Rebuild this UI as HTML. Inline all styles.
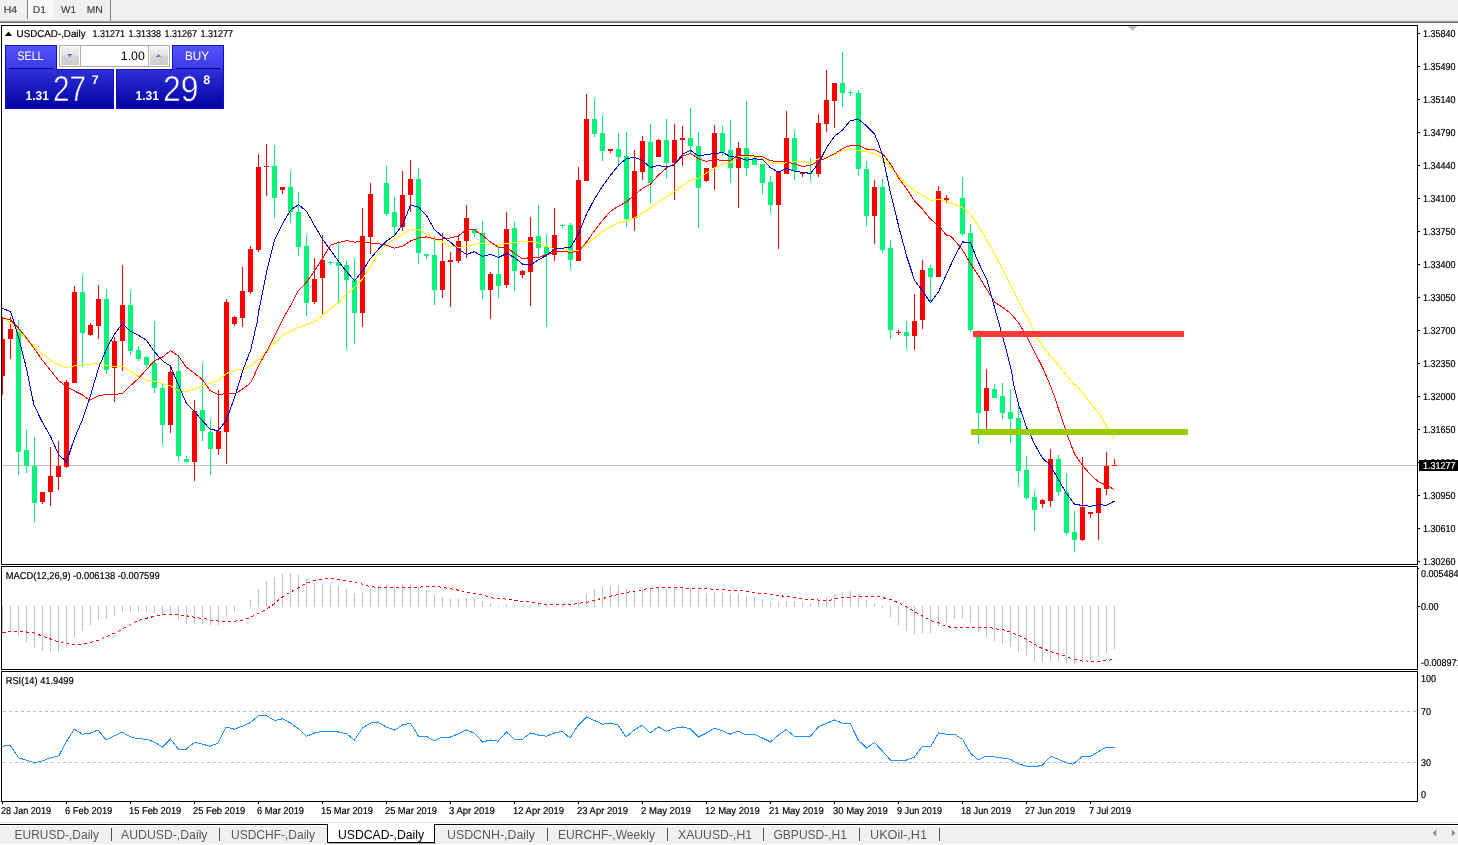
<!DOCTYPE html>
<html lang="en"><head><meta charset="utf-8"><title>USDCAD-,Daily</title>
<style>
html,body{margin:0;padding:0;background:#fff;}
body{width:1458px;height:845px;overflow:hidden;position:relative;font-family:"Liberation Sans",sans-serif;}
svg{position:absolute;left:0;top:0;display:block;}
text{font-family:"Liberation Sans",sans-serif;}
.ax{font-size:10px;fill:#000;stroke:#000;stroke-width:0.2px;text-rendering:geometricPrecision;}
.lbl{font-size:10px;fill:#000;stroke:#000;stroke-width:0.2px;text-rendering:geometricPrecision;}
.tab{font-size:12px;fill:#5a5a5a;}
.tf{font-size:10px;fill:#404040;stroke:#404040;stroke-width:0.15px;text-rendering:geometricPrecision;}
.crisp{shape-rendering:crispEdges;}
</style></head><body>
<svg width="1458" height="845" viewBox="0 0 1458 845">
<defs>
<linearGradient id="gTop" x1="0" y1="0" x2="0" y2="1"><stop offset="0" stop-color="#5454fa"/><stop offset="1" stop-color="#3a3ae6"/></linearGradient>
<linearGradient id="gBot" x1="0" y1="0" x2="0" y2="1"><stop offset="0" stop-color="#3030d8"/><stop offset="1" stop-color="#0000a4"/></linearGradient>
<linearGradient id="gBtn" x1="0" y1="0" x2="0" y2="1"><stop offset="0" stop-color="#f2f2f2"/><stop offset="0.45" stop-color="#e4e4e4"/><stop offset="0.5" stop-color="#d4d4d4"/><stop offset="1" stop-color="#cfcfcf"/></linearGradient>
<pattern id="chk" width="2" height="2" patternUnits="userSpaceOnUse"><rect width="2" height="2" fill="#f0f0f0"/><rect width="1" height="1" fill="#ffffff"/><rect x="1" y="1" width="1" height="1" fill="#ffffff"/></pattern>
<linearGradient id="gBotU" gradientUnits="userSpaceOnUse" x1="0" y1="69" x2="0" y2="109"><stop offset="0" stop-color="#3030d8"/><stop offset="1" stop-color="#0000a4"/></linearGradient>
</defs>
<rect width="1458" height="845" fill="#ffffff"/>
<g class="crisp">
<rect x="0" y="0" width="1458" height="20" fill="#f0f0f0"/>
<rect x="0" y="20" width="1458" height="1" fill="#e2e2e2"/>
<rect x="0" y="21" width="1458" height="1" fill="#a0a0a0"/>
<rect x="0" y="22" width="1458" height="1" fill="#696969"/>
<rect x="28" y="0" width="25" height="19" fill="url(#chk)"/>
<rect x="27" y="0" width="1" height="19" fill="#808080"/>
<rect x="110" y="0" width="1" height="21" fill="#808080"/>
</g>
<text class="tf" x="3.8" y="13" textLength="13.4" lengthAdjust="spacingAndGlyphs">H4</text>
<text class="tf" x="32.8" y="13" textLength="13.2" lengthAdjust="spacingAndGlyphs">D1</text>
<text class="tf" x="61" y="13" textLength="15" lengthAdjust="spacingAndGlyphs">W1</text>
<text class="tf" x="86.8" y="13" textLength="16" lengthAdjust="spacingAndGlyphs">MN</text>
<g class="crisp" fill="#000">
<rect x="1" y="25" width="1417" height="1"/>
<rect x="1" y="564" width="1417" height="1"/>
<rect x="1" y="25" width="1" height="540"/>
<rect x="1417" y="25" width="1" height="540"/>
<rect x="1" y="566" width="1417" height="1"/>
<rect x="1" y="669" width="1417" height="1"/>
<rect x="1" y="566" width="1" height="104"/>
<rect x="1417" y="566" width="1" height="104"/>
<rect x="1" y="671" width="1417" height="1"/>
<rect x="1" y="801" width="1417" height="1"/>
<rect x="1" y="671" width="1" height="131"/>
<rect x="1417" y="671" width="1" height="131"/>
</g>
<g class="crisp" fill="#000">
<rect x="1418" y="33" width="2" height="1"/>
<rect x="1418" y="66" width="2" height="1"/>
<rect x="1418" y="99" width="2" height="1"/>
<rect x="1418" y="132" width="2" height="1"/>
<rect x="1418" y="165" width="2" height="1"/>
<rect x="1418" y="198" width="2" height="1"/>
<rect x="1418" y="231" width="2" height="1"/>
<rect x="1418" y="264" width="2" height="1"/>
<rect x="1418" y="297" width="2" height="1"/>
<rect x="1418" y="330" width="2" height="1"/>
<rect x="1418" y="363" width="2" height="1"/>
<rect x="1418" y="396" width="2" height="1"/>
<rect x="1418" y="429" width="2" height="1"/>
<rect x="1418" y="462" width="2" height="1"/>
<rect x="1418" y="495" width="2" height="1"/>
<rect x="1418" y="528" width="2" height="1"/>
<rect x="1418" y="561" width="2" height="1"/>
<rect x="1418" y="606" width="2" height="1"/>
<rect x="1418" y="568" width="1" height="1"/>
</g>
<text class="ax" x="1423" y="37" textLength="32.5" lengthAdjust="spacingAndGlyphs">1.35840</text>
<text class="ax" x="1423" y="70" textLength="32.5" lengthAdjust="spacingAndGlyphs">1.35490</text>
<text class="ax" x="1423" y="103" textLength="32.5" lengthAdjust="spacingAndGlyphs">1.35140</text>
<text class="ax" x="1423" y="136" textLength="32.5" lengthAdjust="spacingAndGlyphs">1.34790</text>
<text class="ax" x="1423" y="169" textLength="32.5" lengthAdjust="spacingAndGlyphs">1.34440</text>
<text class="ax" x="1423" y="202" textLength="32.5" lengthAdjust="spacingAndGlyphs">1.34100</text>
<text class="ax" x="1423" y="235" textLength="32.5" lengthAdjust="spacingAndGlyphs">1.33750</text>
<text class="ax" x="1423" y="268" textLength="32.5" lengthAdjust="spacingAndGlyphs">1.33400</text>
<text class="ax" x="1423" y="301" textLength="32.5" lengthAdjust="spacingAndGlyphs">1.33050</text>
<text class="ax" x="1423" y="334" textLength="32.5" lengthAdjust="spacingAndGlyphs">1.32700</text>
<text class="ax" x="1423" y="367" textLength="32.5" lengthAdjust="spacingAndGlyphs">1.32350</text>
<text class="ax" x="1423" y="400" textLength="32.5" lengthAdjust="spacingAndGlyphs">1.32000</text>
<text class="ax" x="1423" y="433" textLength="32.5" lengthAdjust="spacingAndGlyphs">1.31650</text>
<text class="ax" x="1423" y="466" textLength="32.5" lengthAdjust="spacingAndGlyphs">1.31300</text>
<text class="ax" x="1423" y="499" textLength="32.5" lengthAdjust="spacingAndGlyphs">1.30950</text>
<text class="ax" x="1423" y="532" textLength="32.5" lengthAdjust="spacingAndGlyphs">1.30610</text>
<text class="ax" x="1423" y="565" textLength="32.5" lengthAdjust="spacingAndGlyphs">1.30260</text>
<text class="ax" x="1421" y="577" textLength="37.5" lengthAdjust="spacingAndGlyphs">0.005484</text>
<text class="ax" x="1421" y="610" textLength="17.5" lengthAdjust="spacingAndGlyphs">0.00</text>
<text class="ax" x="1421" y="666" textLength="40.5" lengthAdjust="spacingAndGlyphs">-0.008971</text>
<text class="ax" x="1421" y="682" textLength="15.0" lengthAdjust="spacingAndGlyphs">100</text>
<text class="ax" x="1421" y="715" textLength="10.0" lengthAdjust="spacingAndGlyphs">70</text>
<text class="ax" x="1421" y="766" textLength="10.0" lengthAdjust="spacingAndGlyphs">30</text>
<text class="ax" x="1421" y="798" textLength="5.0" lengthAdjust="spacingAndGlyphs">0</text>
<rect class="crisp" x="2" y="465" width="1415" height="1" fill="#c0c0c0"/>
<path class="crisp" d="M1127.5 26 L1137.5 26 L1132.5 31 Z" fill="#c0c0c0"/>
<g class="crisp">
<rect x="2" y="316" width="1" height="79" fill="#ff0000"/>
<rect x="2" y="339" width="3" height="37" fill="#ff0000"/>
<rect x="10" y="317" width="1" height="42" fill="#ff0000"/>
<rect x="8" y="329" width="5" height="10" fill="#ff0000"/>
<rect x="18" y="320" width="1" height="155" fill="#00f57a"/>
<rect x="16" y="329" width="5" height="123" fill="#00f57a"/>
<rect x="26" y="430" width="1" height="43" fill="#00f57a"/>
<rect x="24" y="450" width="5" height="16" fill="#00f57a"/>
<rect x="34" y="437" width="1" height="85" fill="#00f57a"/>
<rect x="32" y="466" width="5" height="37" fill="#00f57a"/>
<rect x="42" y="492" width="1" height="12" fill="#ff0000"/>
<rect x="40" y="492" width="5" height="10" fill="#ff0000"/>
<rect x="50" y="447" width="1" height="59" fill="#ff0000"/>
<rect x="48" y="476" width="5" height="16" fill="#ff0000"/>
<rect x="58" y="441" width="1" height="49" fill="#ff0000"/>
<rect x="56" y="466" width="5" height="11" fill="#ff0000"/>
<rect x="66" y="380" width="1" height="88" fill="#ff0000"/>
<rect x="64" y="382" width="5" height="85" fill="#ff0000"/>
<rect x="74" y="286" width="1" height="97" fill="#ff0000"/>
<rect x="72" y="292" width="5" height="91" fill="#ff0000"/>
<rect x="82" y="275" width="1" height="92" fill="#00f57a"/>
<rect x="80" y="292" width="5" height="41" fill="#00f57a"/>
<rect x="90" y="323" width="1" height="13" fill="#ff0000"/>
<rect x="88" y="325" width="5" height="10" fill="#ff0000"/>
<rect x="98" y="285" width="1" height="54" fill="#ff0000"/>
<rect x="96" y="299" width="5" height="27" fill="#ff0000"/>
<rect x="106" y="289" width="1" height="85" fill="#00f57a"/>
<rect x="104" y="299" width="5" height="71" fill="#00f57a"/>
<rect x="114" y="337" width="1" height="65" fill="#ff0000"/>
<rect x="112" y="341" width="5" height="27" fill="#ff0000"/>
<rect x="122" y="265" width="1" height="106" fill="#ff0000"/>
<rect x="120" y="305" width="5" height="36" fill="#ff0000"/>
<rect x="130" y="290" width="1" height="65" fill="#00f57a"/>
<rect x="128" y="305" width="5" height="46" fill="#00f57a"/>
<rect x="138" y="346" width="1" height="15" fill="#00f57a"/>
<rect x="136" y="350" width="5" height="9" fill="#00f57a"/>
<rect x="146" y="356" width="1" height="12" fill="#00f57a"/>
<rect x="144" y="357" width="5" height="8" fill="#00f57a"/>
<rect x="154" y="321" width="1" height="72" fill="#00f57a"/>
<rect x="152" y="363" width="5" height="25" fill="#00f57a"/>
<rect x="162" y="384" width="1" height="61" fill="#00f57a"/>
<rect x="160" y="388" width="5" height="37" fill="#00f57a"/>
<rect x="170" y="365" width="1" height="68" fill="#ff0000"/>
<rect x="168" y="372" width="5" height="53" fill="#ff0000"/>
<rect x="178" y="356" width="1" height="105" fill="#00f57a"/>
<rect x="176" y="371" width="5" height="85" fill="#00f57a"/>
<rect x="186" y="456" width="1" height="7" fill="#00f57a"/>
<rect x="184" y="459" width="5" height="3" fill="#00f57a"/>
<rect x="194" y="400" width="1" height="81" fill="#ff0000"/>
<rect x="192" y="411" width="5" height="51" fill="#ff0000"/>
<rect x="202" y="363" width="1" height="78" fill="#00f57a"/>
<rect x="200" y="410" width="5" height="21" fill="#00f57a"/>
<rect x="210" y="419" width="1" height="56" fill="#00f57a"/>
<rect x="208" y="432" width="5" height="17" fill="#00f57a"/>
<rect x="218" y="390" width="1" height="65" fill="#ff0000"/>
<rect x="216" y="431" width="5" height="18" fill="#ff0000"/>
<rect x="226" y="299" width="1" height="165" fill="#ff0000"/>
<rect x="224" y="302" width="5" height="130" fill="#ff0000"/>
<rect x="234" y="316" width="1" height="10" fill="#ff0000"/>
<rect x="232" y="317" width="5" height="7" fill="#ff0000"/>
<rect x="242" y="267" width="1" height="60" fill="#ff0000"/>
<rect x="240" y="291" width="5" height="27" fill="#ff0000"/>
<rect x="250" y="246" width="1" height="48" fill="#ff0000"/>
<rect x="248" y="249" width="5" height="43" fill="#ff0000"/>
<rect x="258" y="154" width="1" height="98" fill="#ff0000"/>
<rect x="256" y="167" width="5" height="83" fill="#ff0000"/>
<rect x="266" y="144" width="1" height="52" fill="#ff0000"/>
<rect x="264" y="166" width="5" height="1" fill="#ff0000"/>
<rect x="274" y="145" width="1" height="73" fill="#00f57a"/>
<rect x="272" y="166" width="5" height="32" fill="#00f57a"/>
<rect x="282" y="187" width="1" height="7" fill="#ff0000"/>
<rect x="280" y="187" width="5" height="3" fill="#ff0000"/>
<rect x="290" y="171" width="1" height="52" fill="#00f57a"/>
<rect x="288" y="187" width="5" height="25" fill="#00f57a"/>
<rect x="298" y="192" width="1" height="64" fill="#00f57a"/>
<rect x="296" y="212" width="5" height="35" fill="#00f57a"/>
<rect x="306" y="235" width="1" height="81" fill="#00f57a"/>
<rect x="304" y="246" width="5" height="57" fill="#00f57a"/>
<rect x="314" y="258" width="1" height="46" fill="#ff0000"/>
<rect x="312" y="279" width="5" height="23" fill="#ff0000"/>
<rect x="322" y="235" width="1" height="79" fill="#ff0000"/>
<rect x="320" y="260" width="5" height="18" fill="#ff0000"/>
<rect x="330" y="261" width="1" height="4" fill="#00f57a"/>
<rect x="328" y="262" width="5" height="1" fill="#00f57a"/>
<rect x="338" y="241" width="1" height="61" fill="#00f57a"/>
<rect x="336" y="262" width="5" height="4" fill="#00f57a"/>
<rect x="346" y="261" width="1" height="89" fill="#00f57a"/>
<rect x="344" y="265" width="5" height="15" fill="#00f57a"/>
<rect x="354" y="258" width="1" height="86" fill="#00f57a"/>
<rect x="352" y="280" width="5" height="33" fill="#00f57a"/>
<rect x="362" y="208" width="1" height="119" fill="#ff0000"/>
<rect x="360" y="236" width="5" height="77" fill="#ff0000"/>
<rect x="370" y="183" width="1" height="71" fill="#ff0000"/>
<rect x="368" y="194" width="5" height="43" fill="#ff0000"/>
<rect x="386" y="166" width="1" height="50" fill="#00f57a"/>
<rect x="384" y="183" width="5" height="31" fill="#00f57a"/>
<rect x="394" y="197" width="1" height="39" fill="#00f57a"/>
<rect x="392" y="212" width="5" height="15" fill="#00f57a"/>
<rect x="402" y="171" width="1" height="60" fill="#ff0000"/>
<rect x="400" y="195" width="5" height="32" fill="#ff0000"/>
<rect x="410" y="160" width="1" height="52" fill="#ff0000"/>
<rect x="408" y="179" width="5" height="16" fill="#ff0000"/>
<rect x="418" y="168" width="1" height="96" fill="#00f57a"/>
<rect x="416" y="179" width="5" height="74" fill="#00f57a"/>
<rect x="426" y="254" width="1" height="5" fill="#00f57a"/>
<rect x="424" y="254" width="5" height="2" fill="#00f57a"/>
<rect x="434" y="236" width="1" height="69" fill="#00f57a"/>
<rect x="432" y="255" width="5" height="35" fill="#00f57a"/>
<rect x="442" y="233" width="1" height="65" fill="#ff0000"/>
<rect x="440" y="261" width="5" height="29" fill="#ff0000"/>
<rect x="450" y="252" width="1" height="55" fill="#ff0000"/>
<rect x="448" y="260" width="5" height="2" fill="#ff0000"/>
<rect x="458" y="236" width="1" height="27" fill="#ff0000"/>
<rect x="456" y="241" width="5" height="20" fill="#ff0000"/>
<rect x="466" y="205" width="1" height="53" fill="#ff0000"/>
<rect x="464" y="218" width="5" height="23" fill="#ff0000"/>
<rect x="474" y="229" width="1" height="8" fill="#00f57a"/>
<rect x="472" y="229" width="5" height="4" fill="#00f57a"/>
<rect x="482" y="221" width="1" height="78" fill="#00f57a"/>
<rect x="480" y="233" width="5" height="57" fill="#00f57a"/>
<rect x="490" y="272" width="1" height="47" fill="#ff0000"/>
<rect x="488" y="274" width="5" height="16" fill="#ff0000"/>
<rect x="498" y="246" width="1" height="52" fill="#00f57a"/>
<rect x="496" y="274" width="5" height="12" fill="#00f57a"/>
<rect x="506" y="212" width="1" height="76" fill="#ff0000"/>
<rect x="504" y="229" width="5" height="56" fill="#ff0000"/>
<rect x="514" y="222" width="1" height="69" fill="#00f57a"/>
<rect x="512" y="228" width="5" height="43" fill="#00f57a"/>
<rect x="522" y="270" width="1" height="8" fill="#ff0000"/>
<rect x="520" y="271" width="5" height="4" fill="#ff0000"/>
<rect x="530" y="217" width="1" height="89" fill="#ff0000"/>
<rect x="528" y="237" width="5" height="35" fill="#ff0000"/>
<rect x="538" y="205" width="1" height="53" fill="#00f57a"/>
<rect x="536" y="236" width="5" height="12" fill="#00f57a"/>
<rect x="546" y="234" width="1" height="93" fill="#00f57a"/>
<rect x="544" y="247" width="5" height="8" fill="#00f57a"/>
<rect x="554" y="208" width="1" height="53" fill="#ff0000"/>
<rect x="552" y="235" width="5" height="20" fill="#ff0000"/>
<rect x="562" y="224" width="1" height="4" fill="#00f57a"/>
<rect x="560" y="225" width="5" height="1" fill="#00f57a"/>
<rect x="570" y="223" width="1" height="47" fill="#00f57a"/>
<rect x="568" y="225" width="5" height="35" fill="#00f57a"/>
<rect x="578" y="167" width="1" height="94" fill="#ff0000"/>
<rect x="576" y="180" width="5" height="81" fill="#ff0000"/>
<rect x="586" y="94" width="1" height="87" fill="#ff0000"/>
<rect x="584" y="119" width="5" height="62" fill="#ff0000"/>
<rect x="594" y="98" width="1" height="39" fill="#00f57a"/>
<rect x="592" y="119" width="5" height="15" fill="#00f57a"/>
<rect x="602" y="115" width="1" height="46" fill="#00f57a"/>
<rect x="600" y="133" width="5" height="18" fill="#00f57a"/>
<rect x="610" y="149" width="1" height="4" fill="#ff0000"/>
<rect x="608" y="149" width="5" height="2" fill="#ff0000"/>
<rect x="618" y="133" width="1" height="31" fill="#00f57a"/>
<rect x="616" y="149" width="5" height="8" fill="#00f57a"/>
<rect x="626" y="132" width="1" height="95" fill="#00f57a"/>
<rect x="624" y="156" width="5" height="63" fill="#00f57a"/>
<rect x="634" y="150" width="1" height="81" fill="#ff0000"/>
<rect x="632" y="171" width="5" height="47" fill="#ff0000"/>
<rect x="642" y="136" width="1" height="44" fill="#ff0000"/>
<rect x="640" y="141" width="5" height="31" fill="#ff0000"/>
<rect x="650" y="124" width="1" height="79" fill="#00f57a"/>
<rect x="648" y="142" width="5" height="41" fill="#00f57a"/>
<rect x="658" y="139" width="1" height="18" fill="#ff0000"/>
<rect x="656" y="140" width="5" height="17" fill="#ff0000"/>
<rect x="666" y="119" width="1" height="59" fill="#00f57a"/>
<rect x="664" y="140" width="5" height="23" fill="#00f57a"/>
<rect x="674" y="124" width="1" height="76" fill="#ff0000"/>
<rect x="672" y="140" width="5" height="23" fill="#ff0000"/>
<rect x="682" y="126" width="1" height="40" fill="#ff0000"/>
<rect x="680" y="138" width="5" height="2" fill="#ff0000"/>
<rect x="690" y="108" width="1" height="45" fill="#00f57a"/>
<rect x="688" y="138" width="5" height="8" fill="#00f57a"/>
<rect x="698" y="132" width="1" height="96" fill="#00f57a"/>
<rect x="696" y="146" width="5" height="42" fill="#00f57a"/>
<rect x="706" y="168" width="1" height="14" fill="#ff0000"/>
<rect x="704" y="168" width="5" height="13" fill="#ff0000"/>
<rect x="714" y="125" width="1" height="65" fill="#ff0000"/>
<rect x="712" y="133" width="5" height="35" fill="#ff0000"/>
<rect x="722" y="126" width="1" height="30" fill="#00f57a"/>
<rect x="720" y="133" width="5" height="19" fill="#00f57a"/>
<rect x="730" y="120" width="1" height="63" fill="#00f57a"/>
<rect x="728" y="150" width="5" height="18" fill="#00f57a"/>
<rect x="738" y="142" width="1" height="66" fill="#ff0000"/>
<rect x="736" y="148" width="5" height="20" fill="#ff0000"/>
<rect x="746" y="101" width="1" height="75" fill="#00f57a"/>
<rect x="744" y="148" width="5" height="20" fill="#00f57a"/>
<rect x="754" y="155" width="1" height="10" fill="#00f57a"/>
<rect x="752" y="158" width="5" height="7" fill="#00f57a"/>
<rect x="762" y="164" width="1" height="30" fill="#00f57a"/>
<rect x="760" y="164" width="5" height="19" fill="#00f57a"/>
<rect x="770" y="176" width="1" height="37" fill="#00f57a"/>
<rect x="768" y="182" width="5" height="23" fill="#00f57a"/>
<rect x="778" y="171" width="1" height="78" fill="#ff0000"/>
<rect x="776" y="172" width="5" height="33" fill="#ff0000"/>
<rect x="786" y="111" width="1" height="63" fill="#ff0000"/>
<rect x="784" y="138" width="5" height="36" fill="#ff0000"/>
<rect x="794" y="130" width="1" height="50" fill="#00f57a"/>
<rect x="792" y="138" width="5" height="33" fill="#00f57a"/>
<rect x="802" y="172" width="1" height="5" fill="#ff0000"/>
<rect x="800" y="173" width="5" height="1" fill="#ff0000"/>
<rect x="810" y="158" width="1" height="23" fill="#00f57a"/>
<rect x="808" y="173" width="5" height="1" fill="#00f57a"/>
<rect x="818" y="114" width="1" height="63" fill="#ff0000"/>
<rect x="816" y="123" width="5" height="51" fill="#ff0000"/>
<rect x="826" y="70" width="1" height="62" fill="#ff0000"/>
<rect x="824" y="100" width="5" height="24" fill="#ff0000"/>
<rect x="834" y="83" width="1" height="45" fill="#ff0000"/>
<rect x="832" y="83" width="5" height="18" fill="#ff0000"/>
<rect x="842" y="52" width="1" height="55" fill="#00f57a"/>
<rect x="840" y="83" width="5" height="10" fill="#00f57a"/>
<rect x="850" y="90" width="1" height="6" fill="#00f57a"/>
<rect x="848" y="92" width="5" height="1" fill="#00f57a"/>
<rect x="858" y="90" width="1" height="86" fill="#00f57a"/>
<rect x="856" y="93" width="5" height="76" fill="#00f57a"/>
<rect x="866" y="161" width="1" height="65" fill="#00f57a"/>
<rect x="864" y="169" width="5" height="47" fill="#00f57a"/>
<rect x="874" y="180" width="1" height="64" fill="#ff0000"/>
<rect x="872" y="187" width="5" height="29" fill="#ff0000"/>
<rect x="882" y="179" width="1" height="74" fill="#00f57a"/>
<rect x="880" y="187" width="5" height="63" fill="#00f57a"/>
<rect x="890" y="240" width="1" height="99" fill="#00f57a"/>
<rect x="888" y="248" width="5" height="82" fill="#00f57a"/>
<rect x="898" y="330" width="1" height="5" fill="#ff0000"/>
<rect x="896" y="332" width="5" height="1" fill="#ff0000"/>
<rect x="906" y="321" width="1" height="28" fill="#00f57a"/>
<rect x="904" y="332" width="5" height="4" fill="#00f57a"/>
<rect x="914" y="294" width="1" height="56" fill="#ff0000"/>
<rect x="912" y="321" width="5" height="15" fill="#ff0000"/>
<rect x="922" y="260" width="1" height="69" fill="#ff0000"/>
<rect x="920" y="270" width="5" height="50" fill="#ff0000"/>
<rect x="930" y="265" width="1" height="37" fill="#00f57a"/>
<rect x="928" y="268" width="5" height="9" fill="#00f57a"/>
<rect x="938" y="186" width="1" height="91" fill="#ff0000"/>
<rect x="936" y="191" width="5" height="86" fill="#ff0000"/>
<rect x="946" y="195" width="1" height="8" fill="#ff0000"/>
<rect x="944" y="198" width="5" height="2" fill="#ff0000"/>
<rect x="962" y="177" width="1" height="59" fill="#00f57a"/>
<rect x="960" y="198" width="5" height="36" fill="#00f57a"/>
<rect x="970" y="224" width="1" height="108" fill="#00f57a"/>
<rect x="968" y="233" width="5" height="97" fill="#00f57a"/>
<rect x="978" y="330" width="1" height="114" fill="#00f57a"/>
<rect x="976" y="331" width="5" height="82" fill="#00f57a"/>
<rect x="986" y="369" width="1" height="61" fill="#ff0000"/>
<rect x="984" y="388" width="5" height="23" fill="#ff0000"/>
<rect x="994" y="384" width="1" height="14" fill="#00f57a"/>
<rect x="992" y="389" width="5" height="9" fill="#00f57a"/>
<rect x="1002" y="383" width="1" height="36" fill="#00f57a"/>
<rect x="1000" y="396" width="5" height="17" fill="#00f57a"/>
<rect x="1010" y="389" width="1" height="54" fill="#00f57a"/>
<rect x="1008" y="412" width="5" height="7" fill="#00f57a"/>
<rect x="1018" y="405" width="1" height="81" fill="#00f57a"/>
<rect x="1016" y="418" width="5" height="53" fill="#00f57a"/>
<rect x="1026" y="456" width="1" height="44" fill="#00f57a"/>
<rect x="1024" y="470" width="5" height="28" fill="#00f57a"/>
<rect x="1034" y="491" width="1" height="40" fill="#00f57a"/>
<rect x="1032" y="497" width="5" height="13" fill="#00f57a"/>
<rect x="1042" y="499" width="1" height="9" fill="#ff0000"/>
<rect x="1040" y="500" width="5" height="4" fill="#ff0000"/>
<rect x="1050" y="449" width="1" height="58" fill="#ff0000"/>
<rect x="1048" y="459" width="5" height="42" fill="#ff0000"/>
<rect x="1058" y="455" width="1" height="41" fill="#00f57a"/>
<rect x="1056" y="459" width="5" height="33" fill="#00f57a"/>
<rect x="1066" y="473" width="1" height="62" fill="#00f57a"/>
<rect x="1064" y="492" width="5" height="41" fill="#00f57a"/>
<rect x="1074" y="511" width="1" height="41" fill="#00f57a"/>
<rect x="1072" y="532" width="5" height="8" fill="#00f57a"/>
<rect x="1082" y="457" width="1" height="84" fill="#ff0000"/>
<rect x="1080" y="507" width="5" height="33" fill="#ff0000"/>
<rect x="1090" y="512" width="1" height="6" fill="#ff0000"/>
<rect x="1088" y="512" width="5" height="2" fill="#ff0000"/>
<rect x="1098" y="488" width="1" height="52" fill="#ff0000"/>
<rect x="1096" y="488" width="5" height="25" fill="#ff0000"/>
<rect x="1106" y="452" width="1" height="43" fill="#ff0000"/>
<rect x="1104" y="466" width="5" height="23" fill="#ff0000"/>
<rect x="1114" y="459" width="1" height="7" fill="#ff0000"/>
<rect x="1112" y="465" width="5" height="1" fill="#ff0000"/>
</g>
<polyline points="2.1,316.8 10.3,322.9 18.5,331.2 26.8,339.4 35.0,347.6 42.2,353.8 50.4,360.0 58.7,365.1 66.5,367.8 74.5,365.8 82.4,365.1 90.6,364.1 98.8,363.1 107.1,365.8 114.5,366.6 122.5,366.6 130.5,371.3 138.4,376.5 146.6,380.2 154.4,381.2 162.7,383.7 170.5,385.7 178.3,390.9 186.3,391.3 194.6,389.2 202.4,385.7 210.4,383.3 218.4,380.6 226.5,373.4 234.7,370.3 242.9,369.3 250.8,365.8 259.4,359.0 267.7,350.7 275.9,341.5 284.1,334.3 292.4,330.1 299.6,327.1 306.5,324.8 314.5,321.3 322.4,315.8 330.6,308.4 338.8,302.8 346.7,293.5 354.5,287.4 362.5,279.1 370.5,266.8 378.4,252.4 386.6,244.1 394.4,239.0 402.7,234.2 410.5,229.7 418.5,229.7 426.3,234.2 434.6,239.0 442.8,242.1 450.4,246.2 458.4,247.2 466.5,246.6 474.3,244.1 482.5,243.7 490.6,244.5 498.4,244.5 506.6,243.7 514.4,242.5 522.5,241.6 530.3,241.6 538.5,243.1 546.8,246.6 554.6,248.7 562.6,248.7 570.6,251.3 578.5,250.9 586.5,244.1 594.5,237.9 602.4,231.8 610.6,226.6 618.8,222.5 626.4,221.1 634.5,217.8 642.5,213.2 650.5,208.1 658.4,201.9 666.6,196.4 674.4,191.6 682.7,185.4 690.5,180.3 698.5,178.2 706.3,173.1 714.6,167.9 722.8,164.2 730.4,162.8 738.4,156.6 746.5,156.6 754.3,156.6 762.5,158.7 770.6,162.8 778.4,163.8 786.6,162.8 794.4,161.8 802.6,161.6 810.6,162.5 818.6,159.0 826.6,156.9 834.5,154.9 842.5,150.7 850.5,149.3 858.6,150.3 866.6,151.8 874.6,153.2 882.6,159.0 890.5,167.2 899.1,176.5 907.4,184.7 914.6,190.9 921.8,195.0 931.0,200.6 938.7,199.1 946.5,201.2 954.7,204.3 962.5,207.4 970.6,214.6 978.4,225.9 985.6,238.2 986.4,239.3 994.5,253.7 1002.5,269.1 1010.5,284.6 1018.4,301.0 1027.2,317.5 1034.4,331.9 1041.6,345.3 1049.9,355.6 1058.1,364.9 1066.3,375.2 1074.6,385.4 1075.2,384.0 1083.5,393.9 1091.7,404.6 1099.1,413.6 1107.3,427.6 1112.3,435.0 1113.9,438.7" fill="none" stroke="#ffff00" stroke-width="1" shape-rendering="crispEdges" />
<polyline points="2.1,317.8 10.3,319.9 18.5,328.1 26.8,338.4 35.0,349.7 42.2,360.0 50.4,370.3 58.7,380.6 66.5,386.8 74.5,390.9 82.4,395.0 89.6,400.2 98.8,395.6 107.1,394.4 114.5,394.4 122.5,393.6 130.5,385.7 138.4,378.5 146.6,369.3 154.4,361.0 162.7,356.9 170.5,350.7 178.3,355.9 186.3,367.2 194.6,373.4 202.4,379.6 210.4,390.9 218.4,394.6 226.5,393.6 234.7,394.0 242.9,388.8 250.8,382.6 259.4,364.1 267.7,349.7 275.9,333.2 284.1,316.8 292.4,302.4 298.5,290.4 306.5,282.2 314.5,270.9 322.4,258.5 330.6,245.1 338.8,242.5 346.7,240.6 354.5,242.1 362.5,241.6 370.5,243.1 378.4,243.7 386.6,245.1 394.4,248.2 402.7,246.2 410.5,241.0 418.5,237.9 426.3,236.9 434.6,239.0 442.8,239.0 450.4,237.9 458.4,235.9 466.5,229.7 474.3,229.7 482.5,235.5 490.6,242.1 498.4,247.2 506.6,247.2 514.4,253.4 522.5,258.9 530.3,257.5 538.5,257.5 546.8,254.4 554.6,252.4 562.6,251.3 570.6,252.4 578.5,251.3 586.5,242.1 594.5,230.7 602.4,220.4 610.6,211.2 618.8,206.0 626.4,201.9 634.5,194.7 642.5,188.5 650.5,184.0 658.4,175.1 666.6,167.9 674.4,163.8 682.7,156.0 690.5,153.5 698.5,158.7 706.3,161.4 714.6,159.7 722.8,160.3 730.4,160.3 738.4,155.2 746.5,155.2 754.3,156.0 762.5,156.6 770.6,160.7 778.4,161.8 786.6,161.8 794.4,163.8 802.6,166.6 810.6,165.1 818.6,161.0 826.6,157.9 834.5,153.8 842.5,148.7 850.5,145.2 858.6,145.2 866.6,149.1 874.6,149.7 882.6,153.8 890.5,164.1 899.1,178.5 907.4,189.9 914.6,201.2 921.8,208.4 930.0,218.7 938.7,225.9 946.5,235.2 951.0,236.2 962.4,249.6 970.6,264.0 978.8,276.3 986.4,288.7 994.5,302.1 1002.5,307.2 1010.5,313.4 1018.4,322.6 1027.2,337.1 1034.4,351.5 1042.7,367.9 1049.9,384.4 1054.7,397.2 1058.4,408.7 1062.9,421.9 1065.3,428.4 1067.8,436.7 1074.6,454.0 1082.5,465.5 1090.5,474.5 1098.4,481.9 1106.5,485.2 1113.9,489.3" fill="none" stroke="#ff0000" stroke-width="1" shape-rendering="crispEdges" />
<polyline points="2.1,308.1 10.3,311.6 12.4,316.8 18.5,337.4 25.7,365.1 34.0,405.3 42.2,421.8 50.4,436.2 58.7,454.7 66.5,461.9 74.5,438.2 82.4,419.7 90.6,395.0 98.8,367.2 107.1,347.6 114.5,334.3 122.5,323.4 130.5,331.2 138.4,335.3 146.6,340.4 154.4,351.8 162.7,361.0 170.5,366.2 178.3,384.7 186.3,403.2 194.6,411.5 202.4,420.7 210.4,429.4 218.4,430.6 226.5,419.7 234.7,397.1 242.9,370.3 250.8,349.7 257.4,320.9 258.5,312.1 266.8,270.9 274.6,240.0 282.6,223.5 290.6,210.1 298.5,204.6 306.5,211.2 314.5,225.6 322.4,239.0 330.6,250.3 338.8,261.6 346.7,271.9 354.5,280.8 362.5,270.9 370.5,258.5 378.4,249.3 386.6,241.0 394.4,235.5 402.7,224.6 410.5,205.0 418.5,207.1 426.3,215.3 434.6,229.7 442.8,236.9 450.4,242.1 458.4,249.3 466.5,254.4 474.3,251.7 482.5,256.5 490.6,254.4 498.4,257.5 506.6,253.4 514.4,257.5 522.5,264.1 530.3,265.1 538.5,259.6 546.8,255.4 554.6,248.7 562.6,248.2 570.6,247.2 578.5,233.8 586.5,214.3 594.5,198.8 602.4,186.5 610.6,175.1 618.8,164.9 626.4,158.7 634.5,157.2 642.5,160.7 650.5,167.5 658.4,165.5 666.6,166.9 674.4,164.9 682.7,153.9 690.5,150.4 698.5,156.0 706.3,154.6 714.6,153.5 722.8,152.5 730.4,156.6 738.4,157.6 746.5,160.3 754.3,158.7 762.5,159.7 770.6,167.9 778.4,172.1 786.6,168.4 794.4,171.0 802.6,172.4 810.6,173.4 818.6,163.1 826.6,147.6 834.5,136.3 842.5,130.1 850.5,120.5 858.6,119.4 866.6,126.0 874.6,134.3 878.5,143.5 882.6,155.9 890.5,192.9 899.6,230.0 906.8,256.8 914.6,280.4 922.6,290.7 930.4,302.5 938.5,291.8 946.5,274.3 954.5,256.8 962.6,241.9 970.6,242.8 976.8,258.8 987.1,280.4 992.2,299.0 999.4,324.7 1005.6,347.4 1011.8,372.1 1013.5,384.0 1018.4,403.8 1026.5,427.6 1030.8,435.9 1034.6,444.1 1042.5,458.1 1050.5,465.5 1058.4,479.5 1066.5,493.5 1074.6,504.2 1082.5,505.5 1090.5,506.3 1098.4,504.7 1106.5,505.3 1114.6,500.9" fill="none" stroke="#0000cd" stroke-width="1" shape-rendering="crispEdges" />
<rect class="crisp" x="973" y="331" width="211" height="6" fill="#f93a3a"/>
<rect class="crisp" x="971" y="429" width="217" height="6" fill="#99cc00"/>
<rect class="crisp" x="1419" y="460" width="39" height="11" fill="#000"/>
<text class="ax" x="1423" y="469" textLength="32.5" lengthAdjust="spacingAndGlyphs" style="fill:#fff;stroke:#fff">1.31277</text>
<g class="crisp" fill="#c0c0c0">
<rect x="2" y="606" width="1" height="25"/>
<rect x="10" y="606" width="1" height="24"/>
<rect x="18" y="606" width="1" height="30"/>
<rect x="26" y="606" width="1" height="36"/>
<rect x="34" y="606" width="1" height="42"/>
<rect x="42" y="606" width="1" height="45"/>
<rect x="50" y="606" width="1" height="46"/>
<rect x="58" y="606" width="1" height="46"/>
<rect x="66" y="606" width="1" height="41"/>
<rect x="74" y="606" width="1" height="31"/>
<rect x="82" y="606" width="1" height="25"/>
<rect x="90" y="606" width="1" height="19"/>
<rect x="98" y="606" width="1" height="14"/>
<rect x="106" y="606" width="1" height="13"/>
<rect x="114" y="606" width="1" height="10"/>
<rect x="122" y="606" width="1" height="6"/>
<rect x="130" y="606" width="1" height="6"/>
<rect x="138" y="606" width="1" height="6"/>
<rect x="146" y="606" width="1" height="6"/>
<rect x="154" y="606" width="1" height="7"/>
<rect x="162" y="606" width="1" height="10"/>
<rect x="170" y="606" width="1" height="10"/>
<rect x="178" y="606" width="1" height="14"/>
<rect x="186" y="606" width="1" height="18"/>
<rect x="194" y="606" width="1" height="18"/>
<rect x="202" y="606" width="1" height="18"/>
<rect x="210" y="606" width="1" height="19"/>
<rect x="218" y="606" width="1" height="19"/>
<rect x="226" y="606" width="1" height="11"/>
<rect x="234" y="606" width="1" height="6"/>
<rect x="250" y="600" width="1" height="7"/>
<rect x="258" y="589" width="1" height="18"/>
<rect x="266" y="581" width="1" height="26"/>
<rect x="274" y="577" width="1" height="30"/>
<rect x="282" y="574" width="1" height="33"/>
<rect x="290" y="573" width="1" height="34"/>
<rect x="298" y="575" width="1" height="32"/>
<rect x="306" y="579" width="1" height="28"/>
<rect x="314" y="583" width="1" height="24"/>
<rect x="322" y="584" width="1" height="23"/>
<rect x="330" y="585" width="1" height="22"/>
<rect x="338" y="586" width="1" height="21"/>
<rect x="346" y="589" width="1" height="18"/>
<rect x="354" y="593" width="1" height="14"/>
<rect x="362" y="592" width="1" height="15"/>
<rect x="370" y="589" width="1" height="18"/>
<rect x="378" y="586" width="1" height="21"/>
<rect x="386" y="585" width="1" height="22"/>
<rect x="394" y="586" width="1" height="21"/>
<rect x="402" y="585" width="1" height="22"/>
<rect x="410" y="584" width="1" height="23"/>
<rect x="418" y="587" width="1" height="20"/>
<rect x="426" y="590" width="1" height="17"/>
<rect x="434" y="595" width="1" height="12"/>
<rect x="442" y="597" width="1" height="10"/>
<rect x="450" y="599" width="1" height="8"/>
<rect x="458" y="599" width="1" height="8"/>
<rect x="466" y="598" width="1" height="9"/>
<rect x="474" y="598" width="1" height="9"/>
<rect x="482" y="601" width="1" height="6"/>
<rect x="490" y="603" width="1" height="4"/>
<rect x="498" y="606" width="1" height="1"/>
<rect x="506" y="604" width="1" height="3"/>
<rect x="514" y="605" width="1" height="2"/>
<rect x="522" y="606" width="1" height="1"/>
<rect x="530" y="605" width="1" height="2"/>
<rect x="538" y="604" width="1" height="3"/>
<rect x="546" y="605" width="1" height="2"/>
<rect x="554" y="605" width="1" height="2"/>
<rect x="562" y="604" width="1" height="3"/>
<rect x="570" y="604" width="1" height="3"/>
<rect x="578" y="600" width="1" height="7"/>
<rect x="586" y="594" width="1" height="13"/>
<rect x="594" y="589" width="1" height="18"/>
<rect x="602" y="587" width="1" height="20"/>
<rect x="610" y="586" width="1" height="21"/>
<rect x="618" y="585" width="1" height="22"/>
<rect x="626" y="589" width="1" height="18"/>
<rect x="634" y="589" width="1" height="18"/>
<rect x="642" y="588" width="1" height="19"/>
<rect x="650" y="588" width="1" height="19"/>
<rect x="658" y="588" width="1" height="19"/>
<rect x="666" y="589" width="1" height="18"/>
<rect x="674" y="588" width="1" height="19"/>
<rect x="682" y="587" width="1" height="20"/>
<rect x="690" y="588" width="1" height="19"/>
<rect x="698" y="590" width="1" height="17"/>
<rect x="706" y="593" width="1" height="14"/>
<rect x="714" y="592" width="1" height="15"/>
<rect x="722" y="592" width="1" height="15"/>
<rect x="730" y="594" width="1" height="13"/>
<rect x="738" y="594" width="1" height="13"/>
<rect x="746" y="596" width="1" height="11"/>
<rect x="754" y="597" width="1" height="10"/>
<rect x="762" y="599" width="1" height="8"/>
<rect x="770" y="602" width="1" height="5"/>
<rect x="778" y="602" width="1" height="5"/>
<rect x="786" y="601" width="1" height="6"/>
<rect x="794" y="601" width="1" height="6"/>
<rect x="802" y="602" width="1" height="5"/>
<rect x="810" y="603" width="1" height="4"/>
<rect x="818" y="600" width="1" height="7"/>
<rect x="826" y="597" width="1" height="10"/>
<rect x="834" y="594" width="1" height="13"/>
<rect x="842" y="592" width="1" height="15"/>
<rect x="850" y="591" width="1" height="16"/>
<rect x="858" y="594" width="1" height="13"/>
<rect x="866" y="600" width="1" height="7"/>
<rect x="874" y="603" width="1" height="4"/>
<rect x="882" y="606" width="1" height="2"/>
<rect x="890" y="606" width="1" height="11"/>
<rect x="898" y="606" width="1" height="19"/>
<rect x="906" y="606" width="1" height="25"/>
<rect x="914" y="606" width="1" height="28"/>
<rect x="922" y="606" width="1" height="27"/>
<rect x="930" y="606" width="1" height="27"/>
<rect x="938" y="606" width="1" height="20"/>
<rect x="946" y="606" width="1" height="17"/>
<rect x="954" y="606" width="1" height="13"/>
<rect x="962" y="606" width="1" height="12"/>
<rect x="970" y="606" width="1" height="17"/>
<rect x="978" y="606" width="1" height="26"/>
<rect x="986" y="606" width="1" height="31"/>
<rect x="994" y="606" width="1" height="35"/>
<rect x="1002" y="606" width="1" height="38"/>
<rect x="1010" y="606" width="1" height="41"/>
<rect x="1018" y="606" width="1" height="46"/>
<rect x="1026" y="606" width="1" height="50"/>
<rect x="1034" y="606" width="1" height="55"/>
<rect x="1042" y="606" width="1" height="56"/>
<rect x="1050" y="606" width="1" height="55"/>
<rect x="1058" y="606" width="1" height="55"/>
<rect x="1066" y="606" width="1" height="57"/>
<rect x="1074" y="606" width="1" height="58"/>
<rect x="1082" y="606" width="1" height="57"/>
<rect x="1090" y="606" width="1" height="54"/>
<rect x="1098" y="606" width="1" height="51"/>
<rect x="1106" y="606" width="1" height="47"/>
<rect x="1114" y="606" width="1" height="43"/>
</g>
<polyline points="2.5,632.5 12.5,631.2 25.0,631.8 35.0,633.2 42.5,636.2 50.0,638.8 58.8,642.0 66.2,643.8 75.0,644.5 86.2,643.8 97.5,640.5 107.5,636.2 117.5,631.8 127.5,626.2 137.5,620.8 147.5,618.0 157.5,615.5 170.0,614.2 185.0,615.5 195.0,617.5 205.0,618.8 212.5,620.5 220.0,621.2 235.0,621.2 236.9,620.9 243.0,620.2 249.2,617.9 255.4,614.7 261.6,611.6 267.1,608.6 273.9,604.2 280.1,598.7 285.6,594.8 291.8,591.4 297.9,588.0 304.1,584.3 308.9,582.5 315.1,580.4 321.3,579.5 327.5,578.6 333.6,578.6 339.8,579.5 346.0,580.4 351.5,581.4 357.7,583.2 363.8,584.3 370.0,586.6 376.2,587.3 381.0,587.6 418.1,587.6 423.5,586.6 430.0,586.6 435.5,586.3 441.7,587.3 447.8,588.4 454.0,589.3 459.5,590.4 465.7,592.1 471.9,593.2 478.0,594.4 483.5,595.2 489.7,597.3 495.9,598.5 501.4,598.5 507.6,599.4 513.7,600.3 519.9,601.4 525.4,601.4 531.6,602.4 537.8,603.3 543.9,604.4 550.1,604.6 567.3,604.6 573.4,604.2 578.9,603.3 585.8,602.4 591.3,601.4 596.8,599.4 603.0,598.5 609.1,596.5 615.3,595.2 621.5,593.5 627.7,592.4 632.1,591.4 638.2,590.7 645.1,589.1 650.6,588.4 656.8,587.6 683.5,587.6 687.7,588.4 708.2,588.4 712.4,589.3 724.7,589.3 728.8,590.4 742.6,590.4 746.7,591.4 753.5,592.4 759.0,593.2 765.9,593.5 771.4,594.4 777.6,595.2 783.7,596.2 789.9,596.5 795.4,597.3 801.6,598.5 807.8,599.4 813.9,599.4 820.1,600.3 830.0,600.3 832.5,599.2 845.0,597.5 857.5,596.5 877.5,596.5 890.0,599.2 902.5,604.5 915.0,611.8 927.5,618.8 932.7,621.3 938.9,623.0 945.1,626.0 951.3,627.4 989.0,627.4 993.8,628.5 1000.0,629.4 1005.5,630.2 1011.0,632.6 1017.9,635.3 1023.3,637.4 1029.5,641.1 1035.0,644.5 1041.2,647.9 1047.4,650.4 1053.5,652.5 1059.7,654.5 1065.9,656.3 1072.1,658.7 1077.6,659.6 1083.1,660.4 1089.2,661.4 1100.2,661.4 1107.1,660.4 1113.9,659.3" fill="none" stroke="#ff0000" stroke-width="1" shape-rendering="crispEdges" stroke-dasharray="3 3"/>
<g class="crisp">
<line x1="3" y1="711.5" x2="1417" y2="711.5" stroke="#c0c0c0" stroke-width="1" stroke-dasharray="3 3"/>
<line x1="3" y1="762.5" x2="1417" y2="762.5" stroke="#c0c0c0" stroke-width="1" stroke-dasharray="3 3"/>
</g>
<polyline points="2.0,747.0 2.5,746.2 10.0,745.0 18.8,758.0 26.2,760.0 34.5,763.0 42.5,760.8 50.0,758.0 58.8,755.8 66.2,741.8 74.2,729.2 82.5,734.2 90.5,733.0 98.0,730.0 106.2,740.0 114.5,735.8 122.0,732.0 130.0,736.8 138.2,738.8 147.5,739.2 155.0,742.5 162.5,747.0 170.5,739.2 178.5,749.2 186.2,749.2 195.0,742.0 202.5,744.2 210.0,746.2 218.0,743.2 226.2,727.0 234.2,729.2 242.5,726.2 250.5,722.5 258.8,715.5 266.2,715.5 274.5,720.5 282.5,718.8 290.5,723.0 298.5,728.8 306.5,736.2 314.5,733.0 322.5,731.2 330.5,731.2 338.5,732.0 346.5,733.8 354.5,740.0 362.5,728.0 370.0,723.2 377.5,722.0 386.2,727.0 394.5,730.0 402.5,725.0 410.5,723.2 418.5,736.2 426.2,736.2 434.2,740.8 442.5,737.0 450.5,737.0 458.5,733.8 466.5,730.0 474.5,733.2 482.5,742.0 490.5,740.0 498.2,741.2 506.5,732.0 514.5,739.2 522.5,739.2 530.5,733.0 538.5,735.0 546.5,736.2 554.5,733.0 562.0,731.2 570.0,738.0 578.0,725.5 586.5,717.0 594.5,720.5 602.5,724.2 610.5,723.0 618.0,725.0 626.0,737.0 634.5,730.0 642.0,725.0 650.0,733.0 658.5,727.0 666.5,731.2 674.5,728.2 682.5,727.0 690.5,728.8 698.5,737.0 706.5,733.0 714.5,728.2 722.5,730.8 730.0,734.2 738.5,731.2 746.5,735.0 754.5,734.2 762.5,738.0 770.5,742.0 778.5,735.0 786.2,729.5 794.2,736.2 802.5,736.2 810.5,736.2 818.5,726.8 826.5,723.2 834.5,720.0 842.5,723.2 850.0,723.2 858.2,740.0 866.5,748.0 874.5,742.5 882.5,751.2 890.5,760.0 898.5,760.0 906.5,760.0 914.5,757.0 922.5,746.2 930.5,747.0 938.5,733.0 946.5,734.2 954.5,734.2 962.5,739.5 970.5,753.0 978.0,760.0 986.0,756.2 994.5,757.0 1002.0,758.0 1010.0,759.2 1018.5,763.8 1026.5,766.2 1034.5,767.0 1042.5,765.0 1050.5,756.2 1058.5,759.2 1066.5,763.0 1073.0,764.2 1082.5,756.2 1090.5,756.5 1098.5,751.5 1106.5,747.2 1114.5,747.2" fill="none" stroke="#1e90ff" stroke-width="1" shape-rendering="crispEdges" />
<path d="M5 36 L12 36 L8.5 31.5 Z" fill="#000"/>
<text class="lbl" x="16.6" y="37" textLength="69.0" lengthAdjust="spacingAndGlyphs">USDCAD-,Daily</text>
<text class="lbl" x="92.5" y="37" textLength="32.5" lengthAdjust="spacingAndGlyphs">1.31271</text>
<text class="lbl" x="128.5" y="37" textLength="32.5" lengthAdjust="spacingAndGlyphs">1.31338</text>
<text class="lbl" x="164.5" y="37" textLength="32.5" lengthAdjust="spacingAndGlyphs">1.31267</text>
<text class="lbl" x="200.5" y="37" textLength="32.5" lengthAdjust="spacingAndGlyphs">1.31277</text>
<text class="lbl" x="5.7" y="579" textLength="154.0" lengthAdjust="spacingAndGlyphs">MACD(12,26,9) -0.006138 -0.007599</text>
<text class="lbl" x="5.7" y="684" textLength="68.0" lengthAdjust="spacingAndGlyphs">RSI(14) 41.9499</text>
<g class="crisp" fill="#000">
<rect x="2" y="802" width="1" height="2"/>
<rect x="66" y="802" width="1" height="2"/>
<rect x="130" y="802" width="1" height="2"/>
<rect x="194" y="802" width="1" height="2"/>
<rect x="258" y="802" width="1" height="2"/>
<rect x="322" y="802" width="1" height="2"/>
<rect x="386" y="802" width="1" height="2"/>
<rect x="450" y="802" width="1" height="2"/>
<rect x="514" y="802" width="1" height="2"/>
<rect x="578" y="802" width="1" height="2"/>
<rect x="642" y="802" width="1" height="2"/>
<rect x="706" y="802" width="1" height="2"/>
<rect x="770" y="802" width="1" height="2"/>
<rect x="834" y="802" width="1" height="2"/>
<rect x="898" y="802" width="1" height="2"/>
<rect x="962" y="802" width="1" height="2"/>
<rect x="1026" y="802" width="1" height="2"/>
<rect x="1090" y="802" width="1" height="2"/>
</g>
<text class="ax" x="1" y="814" textLength="50.0" lengthAdjust="spacingAndGlyphs">28 Jan 2019</text>
<text class="ax" x="65" y="814" textLength="47.3" lengthAdjust="spacingAndGlyphs">6 Feb 2019</text>
<text class="ax" x="129" y="814" textLength="52.3" lengthAdjust="spacingAndGlyphs">15 Feb 2019</text>
<text class="ax" x="193" y="814" textLength="52.3" lengthAdjust="spacingAndGlyphs">25 Feb 2019</text>
<text class="ax" x="257" y="814" textLength="47.0" lengthAdjust="spacingAndGlyphs">6 Mar 2019</text>
<text class="ax" x="321" y="814" textLength="52.0" lengthAdjust="spacingAndGlyphs">15 Mar 2019</text>
<text class="ax" x="385" y="814" textLength="52.0" lengthAdjust="spacingAndGlyphs">25 Mar 2019</text>
<text class="ax" x="449" y="814" textLength="45.9" lengthAdjust="spacingAndGlyphs">3 Apr 2019</text>
<text class="ax" x="513" y="814" textLength="50.9" lengthAdjust="spacingAndGlyphs">12 Apr 2019</text>
<text class="ax" x="577" y="814" textLength="50.9" lengthAdjust="spacingAndGlyphs">23 Apr 2019</text>
<text class="ax" x="641" y="814" textLength="49.8" lengthAdjust="spacingAndGlyphs">2 May 2019</text>
<text class="ax" x="705" y="814" textLength="54.8" lengthAdjust="spacingAndGlyphs">12 May 2019</text>
<text class="ax" x="769" y="814" textLength="54.8" lengthAdjust="spacingAndGlyphs">21 May 2019</text>
<text class="ax" x="833" y="814" textLength="54.8" lengthAdjust="spacingAndGlyphs">30 May 2019</text>
<text class="ax" x="897" y="814" textLength="45.0" lengthAdjust="spacingAndGlyphs">9 Jun 2019</text>
<text class="ax" x="961" y="814" textLength="50.0" lengthAdjust="spacingAndGlyphs">18 Jun 2019</text>
<text class="ax" x="1025" y="814" textLength="50.0" lengthAdjust="spacingAndGlyphs">27 Jun 2019</text>
<text class="ax" x="1089" y="814" textLength="42.0" lengthAdjust="spacingAndGlyphs">7 Jul 2019</text>
<g class="crisp">
<rect x="5" y="45" width="52" height="25" fill="url(#gTop)"/>
<rect x="172" y="45" width="52" height="25" fill="url(#gTop)"/>
<rect x="5" y="69" width="109" height="40" fill="url(#gBot)"/>
<rect x="116" y="69" width="108" height="40" fill="url(#gBot)"/>
<rect x="9" y="68" width="44" height="1" fill="#000090"/>
<rect x="176" y="68" width="44" height="1" fill="#000090"/>
<path d="M5.5 45.5 H56.5 V69.5 H113.5 V108.5 H5.5 Z" fill="none" stroke="#1010c8" stroke-width="1"/>
<path d="M223.5 45.5 H172.5 V69.5 H116.5 V108.5 H223.5 Z" fill="none" stroke="#1010c8" stroke-width="1"/>
<rect x="59" y="45" width="111" height="22" fill="#ffffff" stroke="none"/>
<path d="M59.5 45.5 H169.5 V66.5 H59.5 Z" fill="none" stroke="#a8a8a8" stroke-width="1"/>
<rect x="61" y="47" width="18" height="18" fill="url(#gBtn)"/>
<rect x="150" y="47" width="18" height="18" fill="url(#gBtn)"/>
<rect x="80" y="46" width="1" height="20" fill="#b0b0b0"/>
<rect x="148" y="46" width="1" height="20" fill="#b0b0b0"/>
</g>
<path d="M67.2 54 L72.2 54 L69.7 57 Z" fill="#5a70c4"/>
<path d="M156 57 L161 57 L158.5 54 Z" fill="#5a70c4"/>
<text x="17.3" y="60.4" style="font-size:12.4px;fill:#fff;text-rendering:geometricPrecision" textLength="26.3" lengthAdjust="spacingAndGlyphs">SELL</text>
<text x="185" y="60.4" style="font-size:12.4px;fill:#fff;text-rendering:geometricPrecision" textLength="24" lengthAdjust="spacingAndGlyphs">BUY</text>
<text x="144.8" y="60" text-anchor="end" style="font-size:12.3px;fill:#000;text-rendering:geometricPrecision">1.00</text>
<text x="25.5" y="100" style="font-size:12px;font-weight:bold;fill:#fff" textLength="23.5" lengthAdjust="spacingAndGlyphs">1.31</text>
<text x="135.5" y="100" style="font-size:12px;font-weight:bold;fill:#fff" textLength="23.5" lengthAdjust="spacingAndGlyphs">1.31</text>
<text x="53" y="100.9" style="font-size:36px;fill:#fff;text-rendering:geometricPrecision" stroke="url(#gBotU)" stroke-width="0.6" textLength="33" lengthAdjust="spacingAndGlyphs">27</text>
<text x="163" y="100.9" style="font-size:36px;fill:#fff;text-rendering:geometricPrecision" stroke="url(#gBotU)" stroke-width="0.6" textLength="35.5" lengthAdjust="spacingAndGlyphs">29</text>
<text x="91.8" y="83.8" style="font-size:12.5px;font-weight:bold;fill:#fff;text-rendering:geometricPrecision">7</text>
<text x="203.2" y="83.8" style="font-size:12.5px;font-weight:bold;fill:#fff;text-rendering:geometricPrecision">8</text>
<g class="crisp">
<rect x="0" y="822" width="1458" height="1" fill="#e3e3e3"/>
<rect x="0" y="826" width="1458" height="18" fill="#f0f0f0"/>
<rect x="0" y="824" width="1458" height="1" fill="#000000"/>
<rect x="328" y="824" width="106" height="18" fill="#ffffff"/>
<rect x="327" y="824" width="1" height="19" fill="#000"/>
<rect x="434" y="824" width="1" height="19" fill="#000"/>
<rect x="327" y="842" width="108" height="1" fill="#000"/>
<rect x="329" y="843" width="107" height="1" fill="#a8a8a8"/>
<rect x="111" y="828" width="1" height="13" fill="#505050"/>
<rect x="219" y="828" width="1" height="13" fill="#505050"/>
<rect x="547" y="828" width="1" height="13" fill="#505050"/>
<rect x="667" y="828" width="1" height="13" fill="#505050"/>
<rect x="763" y="828" width="1" height="13" fill="#505050"/>
<rect x="859" y="828" width="1" height="13" fill="#505050"/>
<rect x="939" y="828" width="1" height="13" fill="#505050"/>
</g>
<text class="tab" x="14.5" y="839" textLength="84.5" lengthAdjust="spacingAndGlyphs">EURUSD-,Daily</text>
<text class="tab" x="121" y="839" textLength="86.5" lengthAdjust="spacingAndGlyphs">AUDUSD-,Daily</text>
<text class="tab" x="231" y="839" textLength="84" lengthAdjust="spacingAndGlyphs">USDCHF-,Daily</text>
<text class="tab" x="447" y="839" textLength="88" lengthAdjust="spacingAndGlyphs">USDCNH-,Daily</text>
<text class="tab" x="558" y="839" textLength="97" lengthAdjust="spacingAndGlyphs">EURCHF-,Weekly</text>
<text class="tab" x="678" y="839" textLength="74" lengthAdjust="spacingAndGlyphs">XAUUSD-,H1</text>
<text class="tab" x="773.5" y="839" textLength="73.5" lengthAdjust="spacingAndGlyphs">GBPUSD-,H1</text>
<text class="tab" x="870" y="839" textLength="57" lengthAdjust="spacingAndGlyphs">UKOil-,H1</text>
<text class="tab" x="338" y="839" style="fill:#000" textLength="86" lengthAdjust="spacingAndGlyphs">USDCAD-,Daily</text>
<path d="M1436.3 829.5 L1436.3 836.5 L1432.6 833 Z" fill="#8c8c8c"/>
<path d="M1451.8 829.5 L1451.8 836.5 L1455.5 833 Z" fill="#8c8c8c"/>
</svg>
</body></html>
